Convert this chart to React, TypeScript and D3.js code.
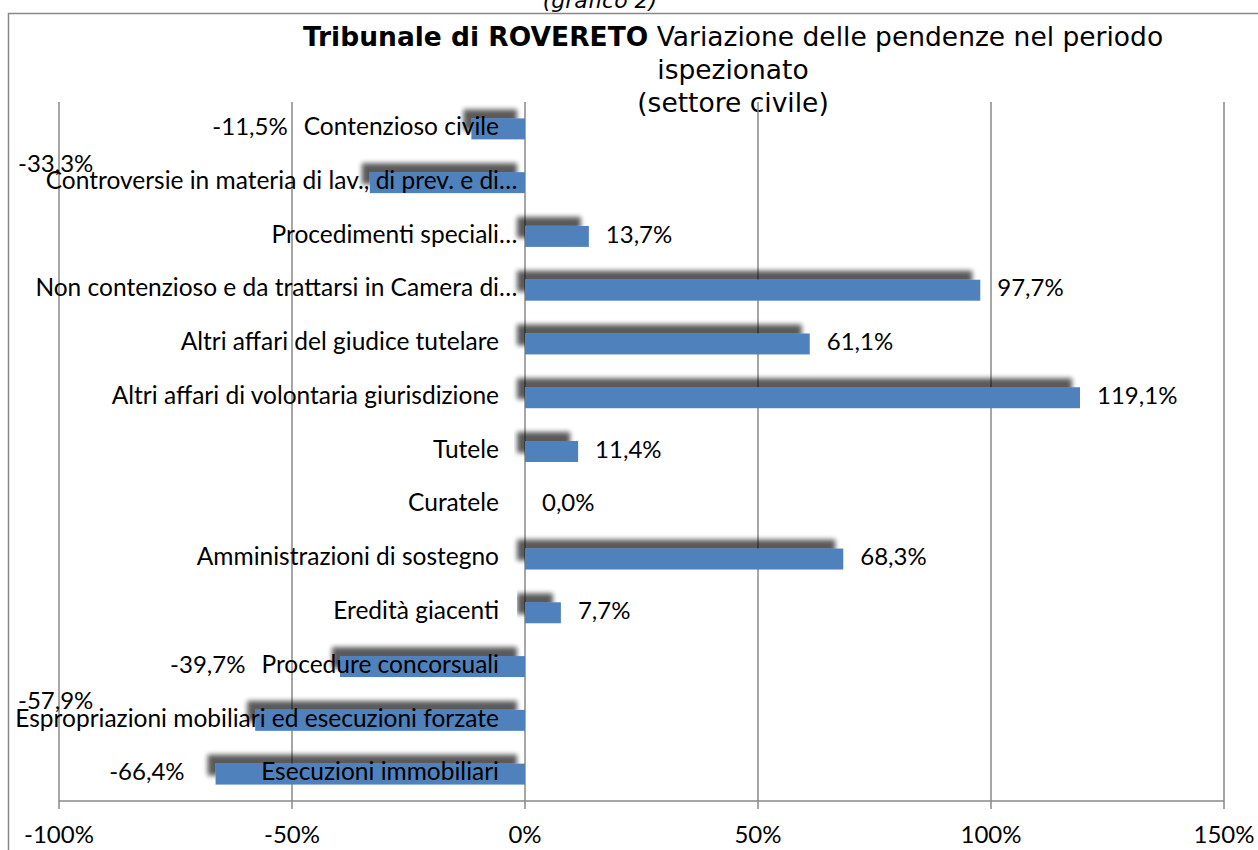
import React, { useEffect, useRef } from "react";
import * as d3 from "d3";

const categories = [
  "Contenzioso civile",
  "Controversie in materia di lav., di prev. e di…",
  "Procedimenti speciali…",
  "Non contenzioso e da trattarsi in Camera di…",
  "Altri affari del giudice tutelare",
  "Altri affari di volontaria giurisdizione",
  "Tutele",
  "Curatele",
  "Amministrazioni di sostegno",
  "Eredità giacenti",
  "Procedure concorsuali",
  "Espropriazioni mobiliari ed esecuzioni forzate",
  "Esecuzioni immobiliari",
];
const values = [-11.5, -33.3, 13.7, 97.7, 61.1, 119.1, 11.4, 0.0, 68.3, 7.7, -39.7, -57.9, -66.4];
const xTicks = [-100, -50, 0, 50, 100, 150];
const titleBold = "Tribunale di ROVERETO";
const titleRest = " Variazione delle pendenze nel periodo";
const titleLine2 = "ispezionato";
const titleLine3 = "(settore civile)";
const caption = "(grafico 2)";

const W = 1258;
const H = 850;
const LABEL_FONT = "Lato, 'Open Sans', sans-serif";
const TITLE_FONT = "'DejaVu Sans', Verdana, sans-serif";
const LABEL_SIZE = 24.5;

export default function App() {
  const ref = useRef<SVGSVGElement | null>(null);

  useEffect(() => {
    const svg = d3.select(ref.current);
    svg.selectAll("*").remove();

    const x = d3.scaleLinear().domain([-100, 150]).range([59, 1224]);
    const y = d3
      .scaleBand<string>()
      .domain(categories)
      .range([102, 801])
      .paddingInner(0.61)
      .paddingOuter(0.305);

    const defs = svg.append("defs");
    const f = defs
      .append("filter")
      .attr("id", "shadow")
      .attr("x", "-20%")
      .attr("y", "-100%")
      .attr("width", "140%")
      .attr("height", "300%");
    f.append("feGaussianBlur").attr("in", "SourceAlpha").attr("stdDeviation", 2.8).attr("result", "b");
    f.append("feOffset").attr("in", "b").attr("dx", -8).attr("dy", -9).attr("result", "o");
    f.append("feComponentTransfer")
      .attr("in", "o")
      .attr("result", "s")
      .append("feFuncA")
      .attr("type", "linear")
      .attr("slope", 0.65);
    const m = f.append("feMerge");
    m.append("feMergeNode").attr("in", "s");
    m.append("feMergeNode").attr("in", "SourceGraphic");

    // outer border
    svg
      .append("rect")
      .attr("x", 8.5)
      .attr("y", 13.5)
      .attr("width", W + 20)
      .attr("height", H + 20)
      .attr("fill", "none")
      .attr("stroke", "#888")
      .attr("stroke-width", 1.5);

    // caption
    svg
      .append("text")
      .attr("x", 600)
      .attr("y", 8)
      .attr("text-anchor", "middle")
      .attr("font-family", TITLE_FONT)
      .attr("font-style", "italic")
      .attr("font-size", 22)
      .text(caption);

    // title
    const TS = 26.5;
    const t1 = svg
      .append("text")
      .attr("x", 733)
      .attr("y", 46)
      .attr("text-anchor", "middle")
      .attr("font-family", TITLE_FONT)
      .attr("font-size", TS);
    t1.append("tspan").attr("font-weight", "bold").text(titleBold);
    t1.append("tspan").text(titleRest);
    [titleLine2, titleLine3].forEach((s, i) => {
      svg
        .append("text")
        .attr("x", 733)
        .attr("y", 79 + i * 33)
        .attr("text-anchor", "middle")
        .attr("font-family", TITLE_FONT)
        .attr("font-size", TS)
        .text(s);
    });

    const gridColor = "#898989";
    // vertical gridlines
    svg
      .append("g")
      .selectAll("line")
      .data(xTicks)
      .join("line")
      .attr("x1", (d) => x(d))
      .attr("x2", (d) => x(d))
      .attr("y1", 102)
      .attr("y2", 809)
      .attr("stroke", gridColor)
      .attr("stroke-width", 1.5);
    // bottom axis line
    svg
      .append("line")
      .attr("x1", x(-100))
      .attr("x2", x(150))
      .attr("y1", 801)
      .attr("y2", 801)
      .attr("stroke", gridColor)
      .attr("stroke-width", 1.5);
    // tick labels
    svg
      .append("g")
      .selectAll("text")
      .data(xTicks)
      .join("text")
      .attr("x", (d) => x(d))
      .attr("y", 837)
      .attr("text-anchor", "middle")
      .attr("dominant-baseline", "middle")
      .attr("font-family", LABEL_FONT)
      .attr("font-size", 24)
      .text((d) => `${d}%`);

    const data = categories.map((c, i) => ({ c, v: values[i] }));

    // bars
    svg
      .append("g")
      .selectAll("rect")
      .data(data.filter((d) => d.v !== 0))
      .join("rect")
      .attr("x", (d) => Math.min(x(d.v), x(0)))
      .attr("width", (d) => Math.abs(x(d.v) - x(0)))
      .attr("y", (d) => y(d.c)!)
      .attr("height", y.bandwidth())
      .attr("fill", "#4F81BD")
      .attr("filter", "url(#shadow)");

    // category labels: text (without a trailing ellipsis) right-aligned at the label edge,
    // a truncation ellipsis overflows past that edge
    const catG = svg.append("g");
    const labelEdge = x(0) - 26;
    const catLefts: number[] = [];
    data.forEach((d) => {
      const cy = y(d.c)! + y.bandwidth() / 2;
      const base = d.c.endsWith("…") ? d.c.slice(0, -1) : d.c;
      const t = catG
        .append("text")
        .attr("y", cy)
        .attr("dominant-baseline", "middle")
        .attr("font-family", LABEL_FONT)
        .attr("font-size", LABEL_SIZE)
        .text(base);
      const wBase = (t.node() as SVGTextElement).getComputedTextLength();
      t.text(d.c);
      const left = labelEdge - wBase;
      t.attr("x", left);
      catLefts.push(left);
    });

    // value labels
    const fmt = (v: number) => `${v.toFixed(1).replace(".", ",")}%`;
    const valG = svg.append("g");
    data.forEach((d, i) => {
      const cy = y(d.c)! + y.bandwidth() / 2;
      const t = valG
        .append("text")
        .attr("dominant-baseline", "middle")
        .attr("font-family", LABEL_FONT)
        .attr("font-size", 24)
        .text(fmt(d.v));
      const w = (t.node() as SVGTextElement).getComputedTextLength();
      if (d.v >= 0) {
        t.attr("x", x(d.v) + 17).attr("y", cy);
      } else {
        let right = Math.min(x(d.v) - 31, catLefts[i] - 16);
        let yy = cy;
        if (right - w < 18) {
          right = 18 + w;
          yy = cy - 17;
        }
        t.attr("x", right - w).attr("y", yy);
      }
    });
  }, []);

  return (
    <svg
      ref={ref}
      width={W}
      height={H}
      style={{ position: "absolute", left: 0, top: 0, background: "#fff" }}
    />
  );
}
